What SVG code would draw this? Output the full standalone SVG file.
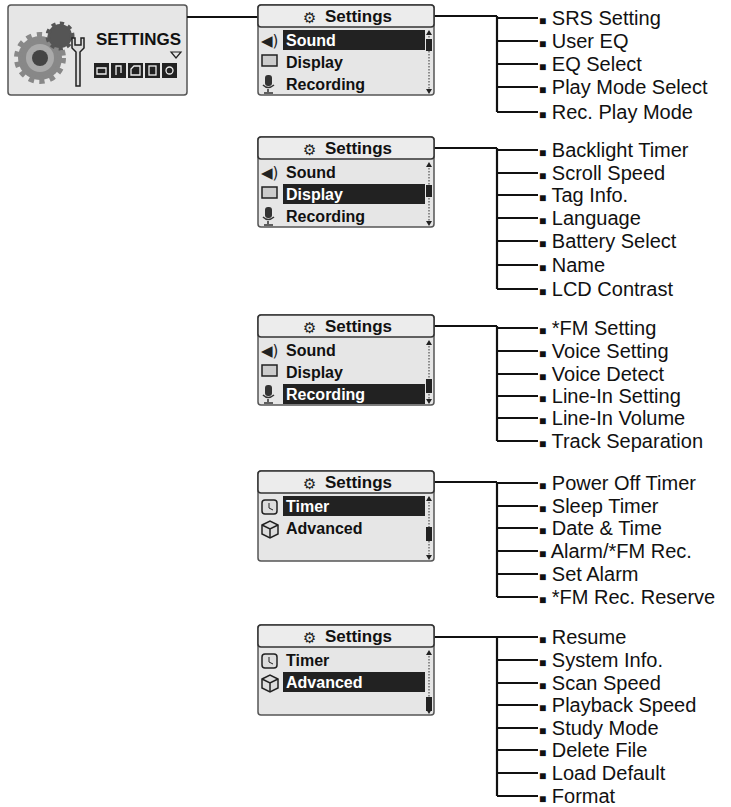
<svg xmlns="http://www.w3.org/2000/svg" width="731" height="807" viewBox="0 0 731 807">
<style>
.box{fill:#e6e6e6;stroke:#555;stroke-width:1.5}
.hdr{fill:#ececec;stroke:#333;stroke-width:1.5}
.ht{font-family:"Liberation Sans",Arial,sans-serif;font-weight:bold;font-size:17px;fill:#111}
.rt{font-family:"Liberation Sans",Arial,sans-serif;font-weight:bold;font-size:16px;fill:#111}
.sel{fill:#fff}
.it{font-family:"Liberation Sans",Arial,sans-serif;font-size:20px;fill:#111}
.b{font-size:12px}
.ln{stroke:#111;stroke-width:2.2;fill:none}
.ico{font-family:"DejaVu Sans",sans-serif;font-size:15px;fill:#222}
</style>
<defs>
<g id="scr">
<rect class="box" x="0" y="0" width="176" height="90" rx="3"/>
<rect class="hdr" x="0" y="0" width="176" height="22" rx="3"/>
<text class="ico" x="45" y="18" font-size="19">⚙</text>
<text class="ht" x="67" y="17">Settings</text>
<line x1="171" y1="28" x2="171" y2="86" stroke="#333" stroke-width="1" stroke-dasharray="1.5,1.5"/>
<path d="M168,30 L171,25 L174,30 Z M168,84 L171,89 L174,84 Z" fill="#222"/>
</g>
</defs>
<g id="settings-main">
<rect class="box" x="8" y="5" width="179" height="90" rx="3"/>
<circle cx="40" cy="58" r="22" fill="#888" stroke="#888" stroke-width="8" stroke-dasharray="5,5"/>
<circle cx="40" cy="58" r="14" fill="#aaa"/>
<circle cx="40" cy="58" r="8" fill="#444"/>
<circle cx="60" cy="36" r="12" fill="#555" stroke="#555" stroke-width="5" stroke-dasharray="4,4"/>
<path d="M72,38 L72,48 L76,52 L76,86 L80,86 L80,52 L84,48 L84,38 L81,38 L81,45 L75,45 L75,38 Z" fill="#ddd" stroke="#222" stroke-width="1.5"/>
<text class="ht" x="96" y="45" font-size="16">SETTINGS</text>
<path d="M171,52 L181,52 L176,58 Z" fill="none" stroke="#222" stroke-width="1.2"/>
<g fill="#222"><rect x="94" y="63" width="15" height="15"/><rect x="111" y="63" width="15" height="15"/><rect x="128" y="63" width="15" height="15"/><rect x="145" y="63" width="15" height="15"/><rect x="162" y="63" width="15" height="15"/></g>
<g fill="none" stroke="#eee" stroke-width="1.3"><path d="M97,74 h9 v-6 h-9 z"/><path d="M116,75 v-9 h5 v7"/><path d="M131,75 v-6 l3,-3 h6 v9 z"/><rect x="149" y="66" width="7" height="9"/><circle cx="169.5" cy="70.5" r="3.5"/></g>
</g>
<g id="connectors" class="ln">
<path d="M187,17 H258"/>
<path d="M434,16 H497 M497,16 V112"/>
<path d="M497,18 H538 M497,41 H538 M497,64 H538 M497,87 H538 M497,112 H538"/>
<path d="M434,148 H497 M497,148 V289"/>
<path d="M497,150 H538 M497,173 H538 M497,195 H538 M497,218 H538 M497,241 H538 M497,265 H538 M497,289 H538"/>
<path d="M434,326 H497 M497,326 V441"/>
<path d="M497,328 H538 M497,351 H538 M497,374 H538 M497,396 H538 M497,418 H538 M497,441 H538"/>
<path d="M434,482 H497 M497,482 V597"/>
<path d="M497,483 H538 M497,506 H538 M497,528 H538 M497,551 H538 M497,574 H538 M497,597 H538"/>
<path d="M434,637 H497 M497,637 V796"/>
<path d="M497,637 H538 M497,660 H538 M497,683 H538 M497,705 H538 M497,728 H538 M497,750 H538 M497,773 H538 M497,796 H538"/>
</g>
<g id="screen-sound" transform="translate(258,5)">
<use href="#scr"/>
<rect x="25" y="25" width="142" height="20" fill="#222"/>
<rect x="168" y="34" width="6" height="12" fill="#222"/>
<text class="ico" x="3" y="41" font-size="13">◀)</text>
<text class="rt sel" x="28" y="41">Sound</text>
<rect x="4" y="50" width="15" height="11" fill="#ccc" stroke="#222" stroke-width="1.5"/>
<text class="rt" x="28" y="63">Display</text>
<rect x="7" y="70" width="7" height="11" rx="3" fill="#333"/><path d="M5,80 q5,5 11,0 M10,84 v3 M6,88 h9" stroke="#333" stroke-width="1.5" fill="none"/>
<text class="rt" x="28" y="85">Recording</text>
</g>
<g id="screen-display" transform="translate(258,137)">
<use href="#scr"/>
<rect x="25" y="47" width="142" height="20" fill="#222"/>
<rect x="168" y="48" width="6" height="12" fill="#222"/>
<text class="ico" x="3" y="41" font-size="13">◀)</text>
<text class="rt" x="28" y="41">Sound</text>
<rect x="4" y="50" width="15" height="11" fill="#ccc" stroke="#222" stroke-width="1.5"/>
<text class="rt sel" x="28" y="63">Display</text>
<rect x="7" y="70" width="7" height="11" rx="3" fill="#333"/><path d="M5,80 q5,5 11,0 M10,84 v3 M6,88 h9" stroke="#333" stroke-width="1.5" fill="none"/>
<text class="rt" x="28" y="85">Recording</text>
</g>
<g id="screen-recording" transform="translate(258,315)">
<use href="#scr"/>
<rect x="25" y="69" width="142" height="20" fill="#222"/>
<rect x="168" y="64" width="6" height="14" fill="#222"/>
<text class="ico" x="3" y="41" font-size="13">◀)</text>
<text class="rt" x="28" y="41">Sound</text>
<rect x="4" y="50" width="15" height="11" fill="#ccc" stroke="#222" stroke-width="1.5"/>
<text class="rt" x="28" y="63">Display</text>
<rect x="7" y="70" width="7" height="11" rx="3" fill="#333"/><path d="M5,80 q5,5 11,0 M10,84 v3 M6,88 h9" stroke="#333" stroke-width="1.5" fill="none"/>
<text class="rt sel" x="28" y="85">Recording</text>
</g>
<g id="screen-timer" transform="translate(258,471)">
<use href="#scr"/>
<rect x="25" y="25" width="142" height="20" fill="#222"/>
<rect x="168" y="56" width="6" height="14" fill="#222"/>
<rect x="4" y="29" width="15" height="14" rx="3" fill="#ddd" stroke="#222" stroke-width="1.5"/><path d="M11,32 v5 l4,2" stroke="#222" fill="none"/>
<text class="rt sel" x="28" y="41">Timer</text>
<path d="M4,54 l8,-4 l8,4 v9 l-8,4 l-8,-4 z" fill="#ddd" stroke="#222" stroke-width="1.5"/><path d="M4,54 l8,4 l8,-4 M12,58 v9" stroke="#222" fill="none" stroke-width="1.5"/>
<text class="rt" x="28" y="63">Advanced</text>
</g>
<g id="screen-advanced" transform="translate(258,625)">
<use href="#scr"/>
<rect x="25" y="47" width="142" height="20" fill="#222"/>
<rect x="168" y="72" width="6" height="14" fill="#222"/>
<rect x="4" y="29" width="15" height="14" rx="3" fill="#ddd" stroke="#222" stroke-width="1.5"/><path d="M11,32 v5 l4,2" stroke="#222" fill="none"/>
<text class="rt" x="28" y="41">Timer</text>
<path d="M4,54 l8,-4 l8,4 v9 l-8,4 l-8,-4 z" fill="#ddd" stroke="#222" stroke-width="1.5"/><path d="M4,54 l8,4 l8,-4 M12,58 v9" stroke="#222" fill="none" stroke-width="1.5"/>
<text class="rt sel" x="28" y="63">Advanced</text>
</g>
<g id="items" class="it">
<text x="539" y="25"><tspan class="b">■</tspan> SRS Setting</text>
<text x="539" y="48"><tspan class="b">■</tspan> User EQ</text>
<text x="539" y="71"><tspan class="b">■</tspan> EQ Select</text>
<text x="539" y="94"><tspan class="b">■</tspan> Play Mode Select</text>
<text x="539" y="119"><tspan class="b">■</tspan> Rec. Play Mode</text>
<text x="539" y="157"><tspan class="b">■</tspan> Backlight Timer</text>
<text x="539" y="180"><tspan class="b">■</tspan> Scroll Speed</text>
<text x="539" y="202"><tspan class="b">■</tspan> Tag Info.</text>
<text x="539" y="225"><tspan class="b">■</tspan> Language</text>
<text x="539" y="248"><tspan class="b">■</tspan> Battery Select</text>
<text x="539" y="272"><tspan class="b">■</tspan> Name</text>
<text x="539" y="296"><tspan class="b">■</tspan> LCD Contrast</text>
<text x="539" y="335"><tspan class="b">■</tspan> *FM Setting</text>
<text x="539" y="358"><tspan class="b">■</tspan> Voice Setting</text>
<text x="539" y="381"><tspan class="b">■</tspan> Voice Detect</text>
<text x="539" y="403"><tspan class="b">■</tspan> Line-In Setting</text>
<text x="539" y="425"><tspan class="b">■</tspan> Line-In Volume</text>
<text x="539" y="448"><tspan class="b">■</tspan> Track Separation</text>
<text x="539" y="490"><tspan class="b">■</tspan> Power Off Timer</text>
<text x="539" y="513"><tspan class="b">■</tspan> Sleep Timer</text>
<text x="539" y="535"><tspan class="b">■</tspan> Date &amp; Time</text>
<text x="539" y="558"><tspan class="b">■</tspan> Alarm/*FM Rec.</text>
<text x="539" y="581"><tspan class="b">■</tspan> Set Alarm</text>
<text x="539" y="604"><tspan class="b">■</tspan> *FM Rec. Reserve</text>
<text x="539" y="644"><tspan class="b">■</tspan> Resume</text>
<text x="539" y="667"><tspan class="b">■</tspan> System Info.</text>
<text x="539" y="690"><tspan class="b">■</tspan> Scan Speed</text>
<text x="539" y="712"><tspan class="b">■</tspan> Playback Speed</text>
<text x="539" y="735"><tspan class="b">■</tspan> Study Mode</text>
<text x="539" y="757"><tspan class="b">■</tspan> Delete File</text>
<text x="539" y="780"><tspan class="b">■</tspan> Load Default</text>
<text x="539" y="803"><tspan class="b">■</tspan> Format</text>
</g>
</svg>
